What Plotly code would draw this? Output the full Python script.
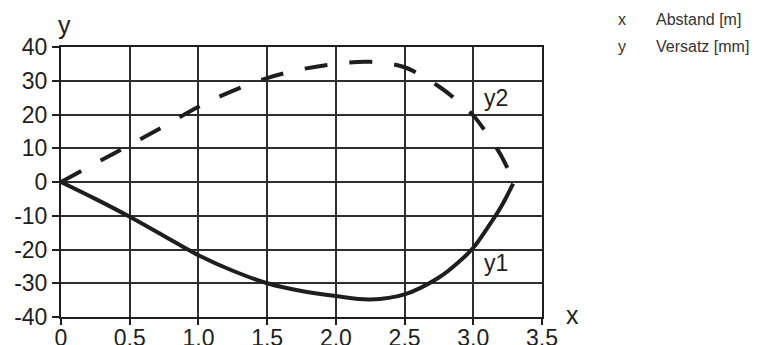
import plotly.graph_objects as go

# Abstand [m] / Versatz [mm]
x_vals = [0, 0.25, 0.5, 0.75, 1.0, 1.25, 1.5, 1.75, 2.0, 2.25, 2.5, 2.75, 2.9, 3.0, 3.1, 3.2, 3.29]
y1_vals = [0, -5, -10.3, -16, -21.7, -26.3, -30, -32.3, -33.8, -34.8, -33.3, -28.3, -23.5, -19.5, -13.8, -7.5, -0.5]
y2_vals = [0, 5.5, 11, 16.5, 22.3, 27, 30.8, 33.4, 35, 35.6, 34, 28.3, 23.5, 19.7, 14.3, 8, 0.5]

x_ticks = [0, 0.5, 1.0, 1.5, 2.0, 2.5, 3.0, 3.5]
x_ticktext = ["0", "0,5", "1,0", "1,5", "2,0", "2,5", "3,0", "3,5"]
y_ticks = [-40, -30, -20, -10, 0, 10, 20, 30, 40]
y_ticktext = ["-40", "-30", "-20", "-10", "0", "10", "20", "30", "40"]

legend_keys = ["x", "y"]
legend_texts = ["Abstand [m]", "Versatz [mm]"]

FONT = "Liberation Sans, Arial, Helvetica, sans-serif"
INK = "#1e1e1e"
GRID = "#2e2e2e"

fig = go.Figure()

fig.add_trace(go.Scatter(
    x=x_vals, y=y1_vals, mode="lines", line_shape="spline",
    line=dict(color=INK, width=4), name="y1", showlegend=False,
))
fig.add_trace(go.Scatter(
    x=x_vals, y=y2_vals, mode="lines", line_shape="spline",
    line=dict(color=INK, width=4, dash="23px,22px"), name="y2", showlegend=False,
))

# curve labels
fig.add_annotation(x=3.06, y=-24, text="y1", showarrow=False, xanchor="left",
                   font=dict(family=FONT, size=23, color=INK))
fig.add_annotation(x=3.06, y=25, text="y2", showarrow=False, xanchor="left",
                   font=dict(family=FONT, size=23, color=INK))

# axis titles
fig.add_annotation(x=0, y=1, xref="paper", yref="paper", text="y", showarrow=False,
                   xanchor="center", yanchor="bottom", xshift=3, yshift=6,
                   font=dict(family=FONT, size=25, color=INK))
fig.add_annotation(x=1, y=0, xref="paper", yref="paper", text="x", showarrow=False,
                   xanchor="left", yanchor="middle", xshift=22, yshift=2,
                   font=dict(family=FONT, size=25, color=INK))

# legend text top right
for i, (k, t) in enumerate(zip(legend_keys, legend_texts)):
    fig.add_annotation(x=1, y=1, xref="paper", yref="paper", text=k, showarrow=False,
                       xanchor="center", yanchor="middle", xshift=80, yshift=28 - i * 27,
                       font=dict(family=FONT, size=16, color="#333333"))
    fig.add_annotation(x=1, y=1, xref="paper", yref="paper", text=t, showarrow=False,
                       xanchor="left", yanchor="middle", xshift=112, yshift=28 - i * 27,
                       font=dict(family=FONT, size=16, color="#333333"))

fig.update_xaxes(
    range=[0, 3.5], tickvals=x_ticks, ticktext=x_ticktext, automargin=False,
    showgrid=True, gridcolor=GRID, gridwidth=1.5,
    showline=True, linecolor=INK, linewidth=2, mirror=True,
    ticks="outside", ticklen=6, tickwidth=2, tickcolor=INK, ticklabelstandoff=-7,
    tickfont=dict(family=FONT, size=23, color=INK), zeroline=False,
)
fig.update_yaxes(
    range=[-40, 40], tickvals=y_ticks, ticktext=y_ticktext, automargin=False,
    showgrid=True, gridcolor=GRID, gridwidth=1.5,
    showline=True, linecolor=INK, linewidth=2, mirror=True,
    ticks="outside", ticklen=7, tickwidth=2, tickcolor=INK,
    tickfont=dict(family=FONT, size=23, color=INK), zeroline=False,
)

# page body adds an 8px offset, so the figure is 8px smaller on each axis
fig.update_layout(
    width=757, height=337,
    margin=dict(l=53, r=223, t=39, b=28),
    plot_bgcolor="white", paper_bgcolor="white",
    showlegend=False,
)

fig.write_html("out.html")
